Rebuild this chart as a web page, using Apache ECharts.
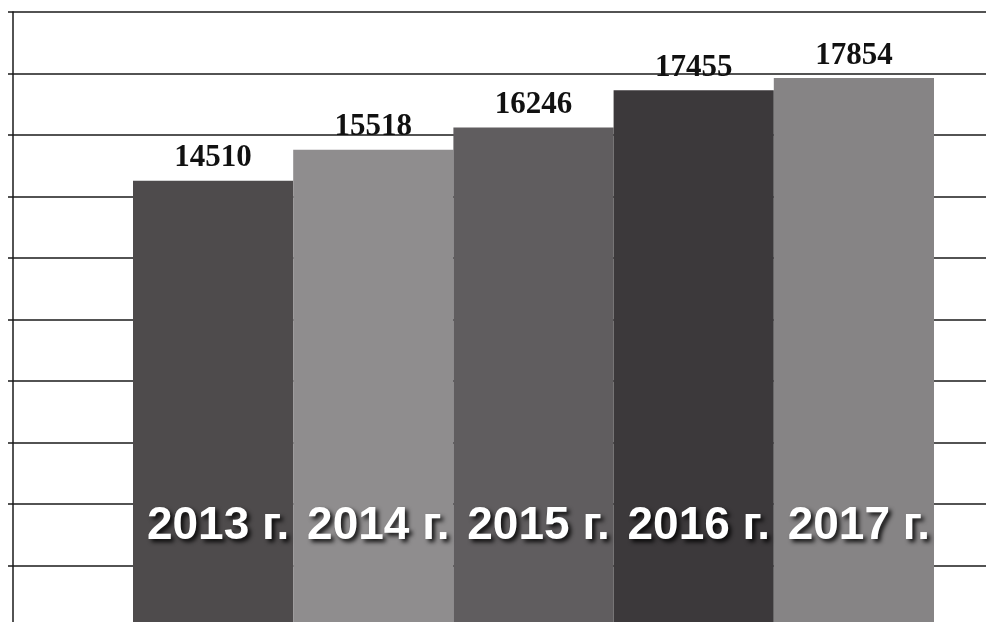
<!DOCTYPE html>
<html>
<head>
<meta charset="utf-8">
<script src="https://cdn.jsdelivr.net/npm/echarts@6/dist/echarts.min.js"></script>
<style>html,body{margin:0;padding:0;background:#fff;overflow:hidden;}#chart{width:986px;height:640px;}</style>
</head>
<body>
<div id="chart"></div>
<script>
var categories = ['2013 г.', '2014 г.', '2015 г.', '2016 г.', '2017 г.'];
var values = [14510, 15518, 16246, 17455, 17854];
var barColors = ['#4e4b4c', '#8f8d8e', '#605d5f', '#3c393b', '#868485'];
var yMin = 0, yMax = 20000, yStep = 2000;

var chart = echarts.init(document.getElementById('chart'));
chart.setOption({
  backgroundColor: '#ffffff',
  animation: false,
  grid: [
    { left: 13, right: 0, top: 12, bottom: 13 },
    { left: 133, right: 52, top: 12, bottom: 13 }
  ],
  xAxis: [
    { type: 'category', gridIndex: 0, data: categories, show: false },
    {
      type: 'category', gridIndex: 1, data: categories,
      axisLine: { show: false }, axisTick: { show: false }, splitLine: { show: false },
      axisLabel: {
        inside: true, margin: 78, interval: 0, hideOverlap: false, padding: [0, 0, 0, 10],
        color: '#ffffff', fontFamily: 'Liberation Sans, Arial, sans-serif', fontWeight: 'bold', fontSize: 46,
        textShadowColor: 'rgba(0,0,0,0.85)', textShadowBlur: 4, textShadowOffsetX: 3, textShadowOffsetY: 3
      },
      z: 10
    }
  ],
  yAxis: [
    {
      type: 'value', gridIndex: 0, min: yMin, max: yMax, interval: yStep,
      axisLine: { show: true, lineStyle: { color: '#1a1a1a', width: 1.5 } },
      axisTick: { show: true, length: 5, lineStyle: { color: '#1a1a1a', width: 1.5 } },
      axisLabel: { show: false },
      splitLine: { show: true, lineStyle: { color: '#1a1a1a', width: 1.5 } }
    },
    {
      type: 'value', gridIndex: 1, min: yMin, max: yMax, interval: yStep, show: false,
      splitLine: { show: false }
    }
  ],
  series: [{
    type: 'bar', xAxisIndex: 1, yAxisIndex: 1,
    barCategoryGap: '0%',
    data: values.map(function (v, i) { return { value: v, itemStyle: { color: barColors[i] } }; }),
    label: {
      show: true, position: 'top', distance: 7,
      color: '#111111', fontFamily: 'Liberation Serif, Times New Roman, serif', fontWeight: 'bold', fontSize: 31
    }
  }]
});
</script>
</body>
</html>
